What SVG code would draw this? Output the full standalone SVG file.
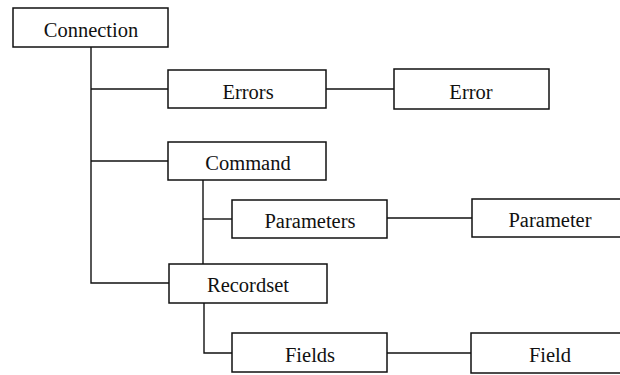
<svg xmlns="http://www.w3.org/2000/svg" width="620" height="375" viewBox="0 0 620 375">
<style>
.box{fill:#fff;stroke:#111;stroke-width:1.5}
.lbl{font-family:"Liberation Serif","Times New Roman",serif;font-size:20.5px;fill:#111;text-anchor:middle}
.con{fill:none;stroke:#111;stroke-width:1.4}
</style>
<rect width="620" height="375" fill="#fff"/>
<g id="connectors">
<path class="con" d="M91,47 V283 H169"/>
<path class="con" d="M91,89 H168"/>
<path class="con" d="M91,161 H168"/>
<path class="con" d="M326,89 H394"/>
<path class="con" d="M203,180 V264"/>
<path class="con" d="M203,219 H232"/>
<path class="con" d="M387,218 H472"/>
<path class="con" d="M204,303 V353 H232"/>
<path class="con" d="M387,353 H471"/>
</g>
<g id="connection"><rect class="box" x="13" y="8" width="155" height="39"/><text class="lbl" x="91" y="37">Connection</text></g>
<g id="errors"><rect class="box" x="168" y="70" width="158" height="38"/><text class="lbl" x="248" y="99">Errors</text></g>
<g id="error"><rect class="box" x="394" y="69" width="155" height="40"/><text class="lbl" x="471" y="99">Error</text></g>
<g id="command"><rect class="box" x="168" y="142" width="158" height="38"/><text class="lbl" x="248" y="170">Command</text></g>
<g id="parameters"><rect class="box" x="232" y="200" width="155" height="38"/><text class="lbl" x="310" y="228">Parameters</text></g>
<g id="parameter"><rect class="box" x="472" y="199" width="160" height="38"/><text class="lbl" x="550" y="227">Parameter</text></g>
<g id="recordset"><rect class="box" x="169" y="264" width="158" height="39"/><text class="lbl" x="248" y="292">Recordset</text></g>
<g id="fields"><rect class="box" x="232" y="333" width="155" height="39"/><text class="lbl" x="310" y="362">Fields</text></g>
<g id="field"><rect class="box" x="471" y="333" width="160" height="40"/><text class="lbl" x="550" y="362">Field</text></g>
</svg>
